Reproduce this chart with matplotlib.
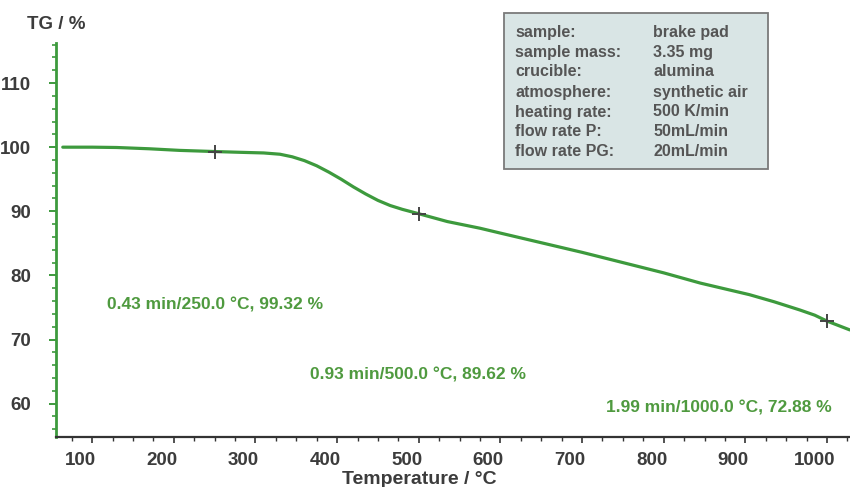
import numpy as np
import matplotlib
matplotlib.use("Agg")
import matplotlib.pyplot as plt
import matplotlib.transforms as mtransforms
from matplotlib.patches import Rectangle
from matplotlib.ticker import MultipleLocator

# TG curve
temp = [64, 100, 130, 170, 207, 250, 281, 310, 330, 345, 360, 375, 390, 405,
        420, 435, 450, 465, 480, 500, 535, 575, 600, 650, 700, 750, 800, 845,
        875, 905, 935, 967, 985, 1000, 1028]
tg = [100.0, 100.0, 99.95, 99.75, 99.5, 99.32, 99.2, 99.1, 98.9, 98.5, 97.9,
      97.1, 96.1, 95.0, 93.8, 92.7, 91.7, 90.9, 90.3, 89.62, 88.4, 87.36, 86.6,
      85.1, 83.6, 82.0, 80.4, 78.8, 77.9, 77.0, 75.9, 74.6, 73.8, 72.88, 71.5]

# marked points
mark_temp = [250.0, 500.0, 1000.0]
mark_time = [0.43, 0.93, 1.99]
mark_tg = [99.32, 89.62, 72.88]

info_keys = ["sample:", "sample mass:", "crucible:", "atmosphere:",
             "heating rate:", "flow rate P:", "flow rate PG:"]
info_vals = ["brake pad", "3.35 mg", "alumina", "synthetic air",
             "500 K/min", "50mL/min", "20mL/min"]

GREEN = "#3d9a3d"
TEXT_GREEN = "#4f9a3f"
DARK = "#3c3c3c"
FONT = "Liberation Sans"

W, H = 850, 487
fig = plt.figure(figsize=(W / 100, H / 100), dpi=100)
ax = fig.add_axes([56 / W, 1 - 437 / H, 1 - 56 / W, (437 - 43.3) / H])

ax.plot(temp, tg, color=GREEN, lw=2.3, solid_capstyle="round", solid_joinstyle="round")
ax.plot(mark_temp, mark_tg, ls="none", marker="+", ms=10, mew=1.4, color="#444444")

ax.set_xlim(55.7, 1028.2)
ax.set_ylim(54.8, 116.2)

for s in ["top", "right"]:
    ax.spines[s].set_visible(False)
ax.spines["left"].set_color(GREEN)
ax.spines["left"].set_linewidth(2.0)
ax.spines["bottom"].set_color("#333333")
ax.spines["bottom"].set_linewidth(1.6)

ax.xaxis.set_minor_locator(MultipleLocator(25))
ax.yaxis.set_minor_locator(MultipleLocator(2))
ax.set_yticks(np.arange(60, 111, 10))
ax.set_xticks(np.arange(100, 1001, 100))

ax.tick_params(axis="y", which="major", length=5, width=1.4, color=GREEN,
               labelsize=13.5, labelcolor=DARK, pad=13)
ax.tick_params(axis="y", which="minor", length=3, width=1.2, color=GREEN)
ax.tick_params(axis="x", which="major", length=4, width=1.2, color="#333333",
               labelsize=13.5, labelcolor=DARK, pad=7)
ax.tick_params(axis="x", which="minor", length=3, width=1.0, color="#333333")

for lab in ax.get_yticklabels() + ax.get_xticklabels():
    lab.set_fontfamily(FONT)
    lab.set_fontweight("bold")

# x labels in the reference sit a bit left of their ticks
shift = mtransforms.ScaledTranslation(-12 / 100, 0, fig.dpi_scale_trans)
for lab in ax.get_xticklabels():
    lab.set_transform(lab.get_transform() + shift)

fig.text(56 / W, 1 - 24.5 / H, "TG / %", ha="center", va="center", fontsize=13.5,
         fontweight="bold", family=FONT, color=DARK)
fig.text(419.5 / W, 1 - 480 / H, "Temperature / °C", ha="center", va="center",
         fontsize=14, fontweight="bold", family=FONT, color=DARK)

# step annotations
ann_pos = [(107, 305, "left"), (310, 375, "left"), (832, 408, "right")]
for (px, py, ha), t, T, v in zip(ann_pos, mark_time, mark_temp, mark_tg):
    fig.text(px / W, 1 - py / H, f"{t:.2f} min/{T:.1f} °C, {v:.2f} %", ha=ha,
             va="center", fontsize=12.5, fontweight="bold", family=FONT,
             color=TEXT_GREEN)

# measurement info box
fig.patches.append(Rectangle((504 / W, 1 - 169 / H), (768 - 504) / W, (169 - 13) / H,
                             transform=fig.transFigure, facecolor="#d9e5e5",
                             edgecolor="#7a7a7a", lw=1.3))
for i, (k, v) in enumerate(zip(info_keys, info_vals)):
    y = 1 - (32 + 20 * i) / H
    fig.text(515 / W, y, k, ha="left", va="center", fontsize=11.5, fontweight="bold",
             family=FONT, color="#555555")
    fig.text(653 / W, y, v, ha="left", va="center", fontsize=11.5, fontweight="bold",
             family=FONT, color="#555555")

fig.savefig("out.png", dpi=100)
